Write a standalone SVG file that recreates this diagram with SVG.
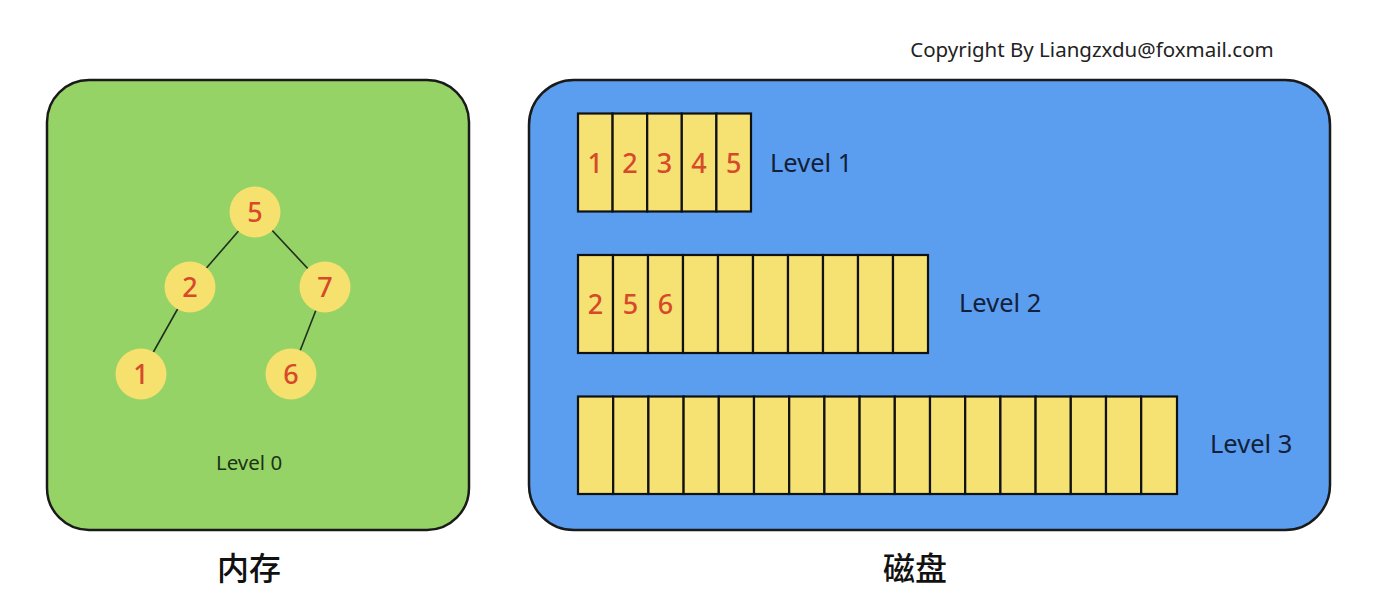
<svg xmlns="http://www.w3.org/2000/svg" width="1380" height="616" viewBox="0 0 1380 616">
<style>
.box{stroke:#1a1a1a;stroke-width:2.5}
.cell{fill:#f5e272;stroke:#111;stroke-width:2.2}
.num{font-family:"Noto Sans","Liberation Sans",sans-serif;font-size:27px;font-weight:500;fill:#d64a2b;text-anchor:middle}
.lvl{font-family:"Noto Sans","Liberation Sans",sans-serif;font-size:25.5px;fill:#13203a}
.node{fill:#f6e06e}
.edge{stroke:#1f2f1a;stroke-width:1.6}
.cjk{font-family:"Noto Sans CJK SC",sans-serif;font-size:32px;font-weight:500;fill:#111;text-anchor:middle}
</style>
<rect width="1380" height="616" fill="#ffffff"/>
<text x="1092" y="57" font-family="Noto Sans, Liberation Sans, sans-serif" font-size="20.5" fill="#222" text-anchor="middle">Copyright By Liangzxdu@foxmail.com</text>

<g id="memory">
<rect class="box" x="47" y="80" width="422" height="450" rx="42" fill="#96d367"/>
<g id="connectors">
<line class="edge" x1="255" y1="212" x2="190" y2="287"/>
<line class="edge" x1="255" y1="212" x2="325" y2="287"/>
<line class="edge" x1="190" y1="287" x2="141" y2="374"/>
<line class="edge" x1="325" y1="287" x2="291" y2="374"/>
</g>
<g id="n5"><circle class="node" cx="255" cy="212" r="25.5"/><text class="num" x="255" y="221.5">5</text></g>
<g id="n2"><circle class="node" cx="190" cy="287" r="25.5"/><text class="num" x="190" y="296.5">2</text></g>
<g id="n7"><circle class="node" cx="325" cy="287" r="25.5"/><text class="num" x="325" y="296.5">7</text></g>
<g id="n1"><circle class="node" cx="141" cy="374" r="25.5"/><text class="num" x="141" y="383.5">1</text></g>
<g id="n6"><circle class="node" cx="291" cy="374" r="25.5"/><text class="num" x="291" y="383.5">6</text></g>
<text x="249" y="470" font-family="Noto Sans, Liberation Sans, sans-serif" font-size="20.5" fill="#1b3514" text-anchor="middle">Level 0</text>
<text class="cjk" x="249" y="580">内存</text>
</g>

<g id="disk">
<rect class="box" x="529" y="80" width="801" height="450" rx="45" fill="#5b9ef0"/>
<g id="level1">
<rect class="cell" x="578" y="113.5" width="34.6" height="98"/>
<rect class="cell" x="612.6" y="113.5" width="34.6" height="98"/>
<rect class="cell" x="647.2" y="113.5" width="34.6" height="98"/>
<rect class="cell" x="681.8" y="113.5" width="34.6" height="98"/>
<rect class="cell" x="716.4" y="113.5" width="34.6" height="98"/>
<text class="num" x="595.3" y="172.5">1</text>
<text class="num" x="629.9" y="172.5">2</text>
<text class="num" x="664.5" y="172.5">3</text>
<text class="num" x="699.1" y="172.5">4</text>
<text class="num" x="733.7" y="172.5">5</text>
<text class="lvl" x="770" y="172">Level 1</text>
</g>
<g id="level2">
<rect class="cell" x="578" y="255" width="35" height="98"/>
<rect class="cell" x="613" y="255" width="35" height="98"/>
<rect class="cell" x="648" y="255" width="35" height="98"/>
<rect class="cell" x="683" y="255" width="35" height="98"/>
<rect class="cell" x="718" y="255" width="35" height="98"/>
<rect class="cell" x="753" y="255" width="35" height="98"/>
<rect class="cell" x="788" y="255" width="35" height="98"/>
<rect class="cell" x="823" y="255" width="35" height="98"/>
<rect class="cell" x="858" y="255" width="35" height="98"/>
<rect class="cell" x="893" y="255" width="35" height="98"/>
<text class="num" x="595.5" y="313.5">2</text>
<text class="num" x="630.5" y="313.5">5</text>
<text class="num" x="665.5" y="313.5">6</text>
<text class="lvl" x="959" y="312">Level 2</text>
</g>
<g id="level3">
<rect class="cell" x="578" y="396.5" width="35.2" height="97.5"/>
<rect class="cell" x="613.2" y="396.5" width="35.2" height="97.5"/>
<rect class="cell" x="648.4" y="396.5" width="35.2" height="97.5"/>
<rect class="cell" x="683.6" y="396.5" width="35.2" height="97.5"/>
<rect class="cell" x="718.8" y="396.5" width="35.2" height="97.5"/>
<rect class="cell" x="754" y="396.5" width="35.2" height="97.5"/>
<rect class="cell" x="789.2" y="396.5" width="35.2" height="97.5"/>
<rect class="cell" x="824.4" y="396.5" width="35.2" height="97.5"/>
<rect class="cell" x="859.6" y="396.5" width="35.2" height="97.5"/>
<rect class="cell" x="894.8" y="396.5" width="35.2" height="97.5"/>
<rect class="cell" x="930" y="396.5" width="35.2" height="97.5"/>
<rect class="cell" x="965.2" y="396.5" width="35.2" height="97.5"/>
<rect class="cell" x="1000.4" y="396.5" width="35.2" height="97.5"/>
<rect class="cell" x="1035.6" y="396.5" width="35.2" height="97.5"/>
<rect class="cell" x="1070.8" y="396.5" width="35.2" height="97.5"/>
<rect class="cell" x="1106" y="396.5" width="35.2" height="97.5"/>
<rect class="cell" x="1141.2" y="396.5" width="35.8" height="97.5"/>
<text class="lvl" x="1210" y="453">Level 3</text>
</g>
<text class="cjk" x="915" y="580">磁盘</text>
</g>
</svg>
